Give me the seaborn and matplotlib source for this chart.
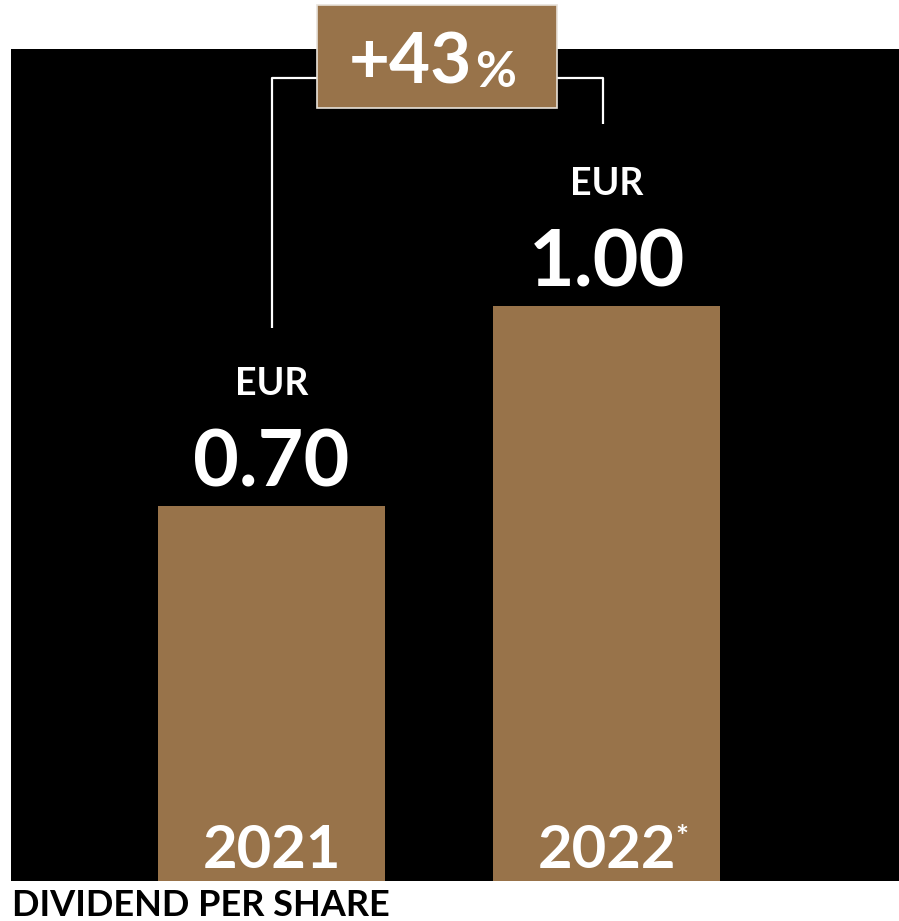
import matplotlib
matplotlib.use("Agg")
import matplotlib.pyplot as plt
import matplotlib.transforms as mtransforms
from matplotlib.patches import Rectangle
from matplotlib.lines import Line2D
import seaborn as sns
import pandas as pd

# Dividend per share data
years = ["2021", "2022"]
year_labels = ["2021", "2022"]
year_marks = ["", "*"]
dividends = [0.70, 1.00]
currency = "EUR"
growth_label = "+43"
title = "DIVIDEND PER SHARE"

BROWN = "#98734A"
W, H = 899, 921
WEIGHT = "bold"

sns.set_theme(style="white")
plt.rcParams["font.family"] = ["Lato", "DejaVu Sans"]

fig = plt.figure(figsize=(W / 100, H / 100), dpi=100)
fig.patch.set_facecolor("white")

# axes occupies the black panel (pixel box 11..899 x 49..881)
ax = fig.add_axes([11 / W, (H - 881) / H, (899 - 11) / W, (881 - 49) / H])
ax.set_facecolor("black")

df = pd.DataFrame({"year": years, "dividend": dividends})
sns.barplot(data=df, x="year", y="dividend", color=BROWN, saturation=1,
            width=0.676, ax=ax, edgecolor="none")

ax.set_xlim(-0.778, 1.873)
ax.set_ylim(0.138, 1.386)
ax.set_xticks([])
ax.set_yticks([])
ax.set_xlabel("")
ax.set_ylabel("")
for s in ax.spines.values():
    s.set_visible(False)

px = 72 / 100  # points per pixel

# value labels above bars
for i, v in enumerate(dividends):
    ax.annotate(f"{v:.2f}", xy=(i, v), xytext=(0, 20 * px), textcoords="offset points",
                ha="center", va="baseline", color="white", fontsize=57,
                fontweight=WEIGHT)
    ax.annotate(currency, xy=(i, v), xytext=(0, 111 * px), textcoords="offset points",
                ha="center", va="baseline", color="white", fontsize=27,
                fontweight=WEIGHT)

# year labels inside bars
tr = mtransforms.blended_transform_factory(ax.transData, ax.transAxes)
for i, (lab, mark) in enumerate(zip(year_labels, year_marks)):
    t = ax.text(i, 13 / 832, lab, transform=tr, ha="center", va="baseline",
                color="white", fontsize=43, fontweight=WEIGHT)
    if mark:
        ax.annotate(mark, xy=(1, 1), xycoords=t, xytext=(0, 0),
                    textcoords="offset points", ha="left", va="top",
                    color="white", fontsize=22, fontweight=WEIGHT)

# growth bracket
def ay(ypix):
    return (881 - ypix) / 832

lw = 1.6
ax.add_line(Line2D([0, 0, 0.136], [ay(328), ay(78), ay(78)], transform=tr,
                   color="white", lw=lw, clip_on=False, solid_capstyle="butt"))
ax.add_line(Line2D([0.852, 0.99, 0.99], [ay(78), ay(78), ay(124)], transform=tr,
                   color="white", lw=lw, clip_on=False, solid_capstyle="butt"))
ax.add_patch(Rectangle((0.136, ay(108)), 0.852 - 0.136, ay(5) - ay(108), transform=tr,
                       facecolor=BROWN, edgecolor="#e8e2da", lw=1.2, clip_on=False,
                       zorder=5))
g = ax.text(0.60, ay(83), growth_label, transform=tr, ha="right", va="baseline",
            color="white", fontsize=51, fontweight=WEIGHT, zorder=6)
ax.annotate("%", xy=(1, 0), xycoords=g, xytext=(2, 0), textcoords="offset points",
            ha="left", va="bottom", color="white", fontsize=36, fontweight=WEIGHT,
            zorder=6)

fig.text(12 / W, 5 / H, title, ha="left", va="baseline", color="black",
         fontsize=26, fontweight=WEIGHT)

fig.savefig("out.png", dpi=100, facecolor="white")
